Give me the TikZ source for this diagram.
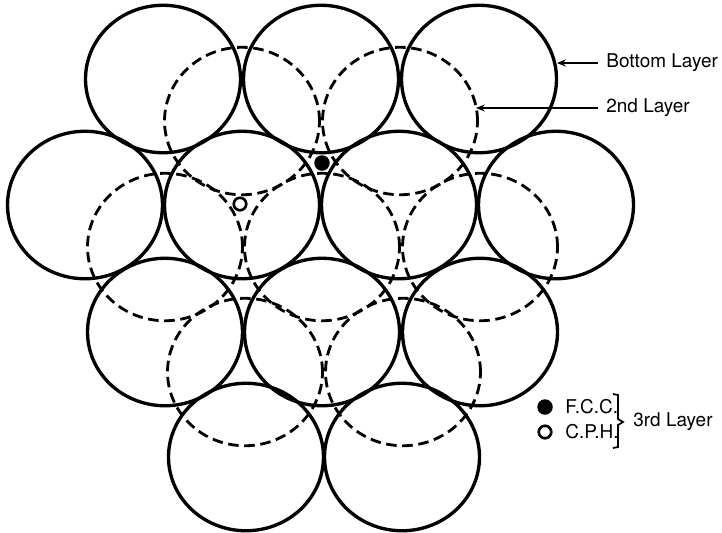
\documentclass[tikz,border=0pt]{standalone}
\usepackage{fontspec}
\setmainfont{TeX Gyre Heros}
\usetikzlibrary{shapes.geometric,arrows.meta}

\begin{document}
\begin{tikzpicture}[x=0.02cm,y=-0.02cm,
lage1/.style={ellipse, draw, line width=1.9pt, minimum width=3.1cm, minimum height=2.95cm, inner sep=0},
lage2/.style={lage1, line width=1.6pt, dash pattern=on 6pt off 3.2pt},
fcc/.style={circle, fill, minimum size=0.31cm, inner sep=0},
cph/.style={circle, draw, line width=1.5pt, minimum size=0.25cm, inner sep=0},
txt/.style={anchor=west, inner xsep=0.16cm, inner ysep=0, font=\fontsize{10.8}{13}\selectfont},
pfeil/.style={-{Stealth[length=5pt,width=4pt]}, line width=0.8pt},
]

\useasboundingbox (0,0) rectangle (722,532);
%\draw[help lines,gray] (0,0) grid[step=50] (722,532);

% bottom layer
\node  [lage1] (A1) at (163,79){};
\node  [lage1] (A2) at (321,79){};
\node  [lage1] (A3) at (479,79){};

\node  [lage1] (B1) at (85,205){};
\node  [lage1] (B2) at (242,205){};
\node  [lage1] (B3) at (399,205){};
\node  [lage1] (B4) at (556,205){};

\node  [lage1] (C1) at (165,332){};
\node  [lage1] (C2) at (322,332){};
\node  [lage1] (C3) at (480,332){};

\node  [lage1] (D1) at (246,457){};
\node  [lage1] (D2) at (402,457){};

% 2nd layer
\node  [lage2] (P1) at (242,121){};
\node  [lage2] (P2) at (400,121){};

\node  [lage2] (Q1) at (165,247){};
\node  [lage2] (Q2) at (322,247){};
\node  [lage2] (Q3) at (480,247){};

\node  [lage2] (R1) at (245,372){};
\node  [lage2] (R2) at (403,372){};

% 3rd layer sites
\node  [fcc] (f) at (322,163){};
\node  [cph] (c) at (240,204){};

% labels
\coordinate (t1) at (557,63);
\coordinate (t2) at (476,108);
\node  [txt] (bl) at (598,63){Bottom Layer};
\node  [txt] (sl) at (598,108){2nd Layer};
\draw [pfeil] (bl) -- (t1);
\draw [pfeil] (sl) -- (t2);

% legend
\node  [fcc] (lf) at (545,407){};
\node  [cph] (lc) at (545,432){};
\node  [txt] (tf) at (557,407){F.C.C.};
\node  [txt] (tc) at (557,432){C.P.H.};
\draw [line width=1pt] (613,394) -- (618,395) -- (618,419) -- (623,422) -- (618,425) -- (618,447) -- (613,448);
\node  [txt] (tl) at (625,422){3rd Layer};
\end{tikzpicture}
\end{document}
